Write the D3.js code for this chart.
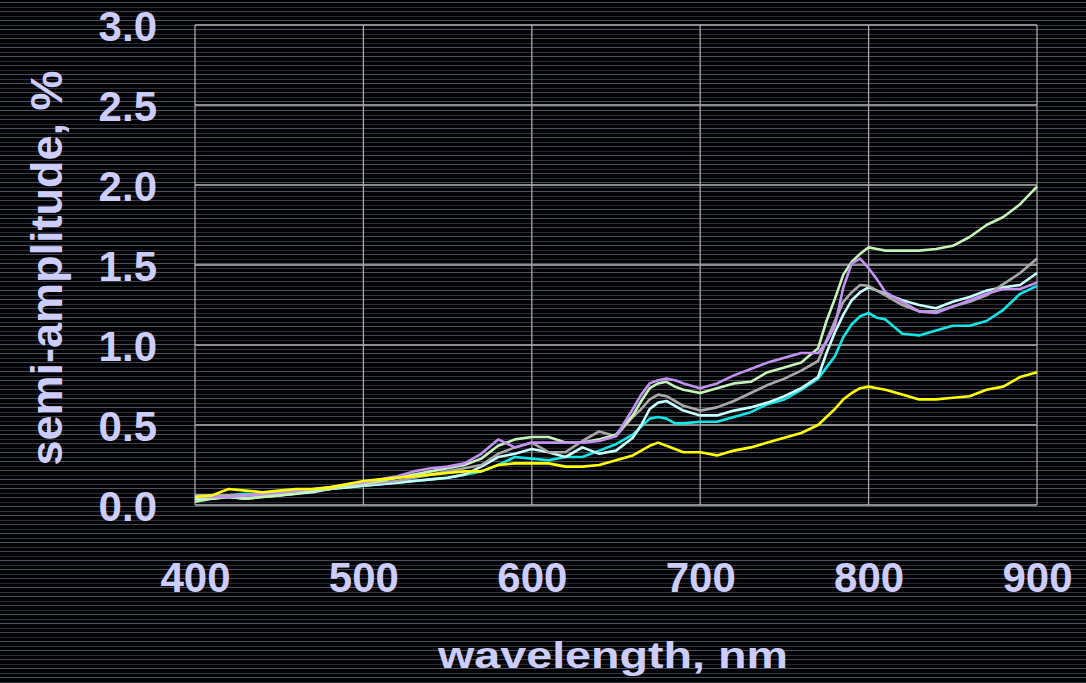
<!DOCTYPE html>
<html>
<head>
<meta charset="utf-8">
<script src="https://cdn.jsdelivr.net/npm/d3@7"></script>
<style>
  html, body { margin: 0; padding: 0; background: #030305; }
  svg { display: block; }
</style>
</head>
<body>
<svg id="chart" width="1086" height="683"></svg>
<script>
// Wavelength grid (nm), finer around the two absorption peaks
const wavelengths = [400,410,420,430,440,450,460,470,480,490,500,510,520,530,540,550,560,570,580,590,600,610,620,630,640,650,660,665,670,675,680,685,690,700,710,720,730,740,750,760,770,775,780,785,790,795,800,805,810,820,830,840,850,860,870,880,890,900];

// Semi-amplitude (%) for each spectrum
const yellowSeries =   [0.05,0.06,0.10,0.09,0.08,0.09,0.10,0.10,0.11,0.13,0.15,0.16,0.17,0.18,0.19,0.20,0.21,0.21,0.25,0.26,0.26,0.26,0.24,0.24,0.25,0.28,0.31,0.34,0.37,0.39,0.37,0.35,0.33,0.33,0.31,0.34,0.36,0.39,0.42,0.45,0.50,0.55,0.60,0.66,0.70,0.73,0.74,0.73,0.72,0.69,0.66,0.66,0.67,0.68,0.72,0.74,0.80,0.83];
const cyanSeries =     [0.05,0.05,0.06,0.07,0.06,0.07,0.08,0.09,0.10,0.11,0.12,0.13,0.14,0.15,0.16,0.17,0.19,0.21,0.25,0.30,0.29,0.28,0.30,0.30,0.34,0.38,0.44,0.49,0.54,0.55,0.54,0.51,0.51,0.52,0.52,0.55,0.58,0.63,0.66,0.72,0.79,0.86,0.93,1.05,1.13,1.18,1.20,1.17,1.16,1.07,1.06,1.09,1.12,1.12,1.15,1.22,1.32,1.37];
const paleCyanSeries = [0.04,0.04,0.05,0.04,0.05,0.06,0.07,0.08,0.10,0.11,0.12,0.13,0.14,0.15,0.16,0.17,0.19,0.24,0.30,0.32,0.35,0.33,0.30,0.36,0.32,0.34,0.42,0.50,0.60,0.64,0.65,0.62,0.59,0.56,0.56,0.59,0.61,0.64,0.68,0.73,0.80,0.95,1.08,1.19,1.28,1.33,1.36,1.34,1.32,1.28,1.25,1.23,1.27,1.30,1.34,1.36,1.375,1.45];
const graySeries =     [0.06,0.06,0.06,0.06,0.06,0.07,0.08,0.09,0.10,0.12,0.13,0.14,0.15,0.17,0.19,0.21,0.23,0.25,0.32,0.36,0.39,0.33,0.33,0.40,0.46,0.43,0.55,0.60,0.66,0.69,0.68,0.65,0.62,0.59,0.61,0.65,0.70,0.75,0.79,0.84,0.90,1.03,1.15,1.27,1.33,1.375,1.37,1.34,1.31,1.25,1.21,1.21,1.24,1.27,1.31,1.38,1.45,1.54];
const greenSeries =    [0.02,0.04,0.05,0.04,0.05,0.06,0.07,0.09,0.10,0.12,0.13,0.15,0.17,0.19,0.21,0.23,0.25,0.29,0.37,0.41,0.425,0.425,0.39,0.39,0.41,0.44,0.56,0.65,0.73,0.76,0.77,0.74,0.72,0.70,0.73,0.76,0.77,0.83,0.86,0.89,0.98,1.15,1.29,1.44,1.52,1.57,1.61,1.60,1.59,1.59,1.59,1.60,1.62,1.675,1.75,1.80,1.88,1.99];
const violetSeries =   [0.05,0.05,0.05,0.06,0.07,0.08,0.09,0.10,0.11,0.13,0.14,0.16,0.18,0.21,0.23,0.24,0.26,0.32,0.41,0.36,0.39,0.39,0.39,0.39,0.40,0.43,0.60,0.69,0.76,0.78,0.79,0.78,0.76,0.73,0.76,0.81,0.85,0.89,0.92,0.95,0.95,1.02,1.12,1.36,1.51,1.54,1.48,1.41,1.33,1.27,1.21,1.20,1.24,1.28,1.32,1.35,1.35,1.39];

const seriesList = [
  { name: "cyan", values: cyanSeries, color: "#12e6e6" },
  { name: "pale cyan", values: paleCyanSeries, color: "#c8ffff" },
  { name: "gray", values: graySeries, color: "#a9a9a9" },
  { name: "green", values: greenSeries, color: "#c4f4b8" },
  { name: "violet", values: violetSeries, color: "#c292f2" },
  { name: "yellow", values: yellowSeries, color: "#ffff00" }
];

const xTicks = [400, 500, 600, 700, 800, 900];
const yTicks = [0, 0.5, 1.0, 1.5, 2.0, 2.5, 3.0];

const W = 1086, H = 683;
const margin = { left: 195, right: 49, top: 25, bottom: 178 };
const svg = d3.select("#chart");

// Dark background with faint horizontal scanlines
svg.append("rect").attr("width", W).attr("height", H).attr("fill", "#030305");
const scan = svg.append("g");
const lineYs = d3.range(2, H, 4.5);
const shades = ["#4a5160", "#2a2f38", "#3e4452", "#23272f", "#465060", "#30353f"];
scan.selectAll("line").data(lineYs).join("line")
  .attr("x1", 0).attr("x2", W)
  .attr("y1", d => Math.round(d) + 0.5).attr("y2", d => Math.round(d) + 0.5)
  .attr("stroke", (d, i) => shades[i % shades.length])
  .attr("stroke-width", 1);

const x = d3.scaleLinear().domain([400, 900]).range([margin.left, W - margin.right]);
const y = d3.scaleLinear().domain([0, 3]).range([H - margin.bottom, margin.top]);

// Grid
const grid = svg.append("g");
grid.selectAll(".hg").data(yTicks).join("line")
  .attr("x1", x(400)).attr("x2", x(900))
  .attr("y1", d => y(d)).attr("y2", d => y(d))
  .attr("stroke", "#8c8c8c").attr("stroke-width", 2);
grid.selectAll(".vg").data(xTicks).join("line")
  .attr("x1", d => x(d)).attr("x2", d => x(d))
  .attr("y1", y(0)).attr("y2", y(3))
  .attr("stroke", "#a8a8a8").attr("stroke-width", 1.3);

// Axes (tick labels only)
const labelColor = "#cdcdfb";
const xAxis = d3.axisBottom(x).tickValues(xTicks).tickSize(0).tickPadding(0).tickFormat(d3.format("d"));
const gx = svg.append("g").attr("transform", `translate(0,${y(0)})`).call(xAxis);
gx.select(".domain").remove();
gx.selectAll("text")
  .attr("y", 87).attr("dy", null)
  .attr("fill", labelColor)
  .attr("font-family", "Liberation Sans, Arial, sans-serif")
  .attr("font-weight", "bold").attr("font-size", 42);

const yAxis = d3.axisLeft(y).tickValues(yTicks).tickSize(0).tickPadding(0).tickFormat(d3.format(".1f"));
const gy = svg.append("g").attr("transform", `translate(${x(400)},0)`).call(yAxis);
gy.select(".domain").remove();
gy.selectAll("text")
  .attr("x", -38).attr("dy", "0.36em")
  .attr("fill", labelColor)
  .attr("font-family", "Liberation Sans, Arial, sans-serif")
  .attr("font-weight", "bold").attr("font-size", 42);

// Spectra
const line = d3.line()
  .x((d, i) => x(wavelengths[i]))
  .y(d => y(d));
svg.append("g").selectAll("path").data(seriesList).join("path")
  .attr("d", s => line(s.values))
  .attr("fill", "none")
  .attr("stroke", s => s.color)
  .attr("stroke-width", 2.6)
  .attr("stroke-linejoin", "round");

// Axis titles
svg.append("text")
  .attr("x", 438).attr("y", 668)
  .attr("textLength", 350).attr("lengthAdjust", "spacingAndGlyphs")
  .attr("fill", labelColor)
  .attr("font-family", "Liberation Sans, Arial, sans-serif")
  .attr("font-weight", "bold").attr("font-size", 37)
  .text("wavelength, nm");

svg.append("text")
  .attr("transform", "translate(62,268) rotate(-90)")
  .attr("text-anchor", "middle")
  .attr("fill", labelColor)
  .attr("font-family", "Liberation Sans, Arial, sans-serif")
  .attr("font-weight", "bold").attr("font-size", 45)
  .text("semi-amplitude, %");
</script>
</body>
</html>
